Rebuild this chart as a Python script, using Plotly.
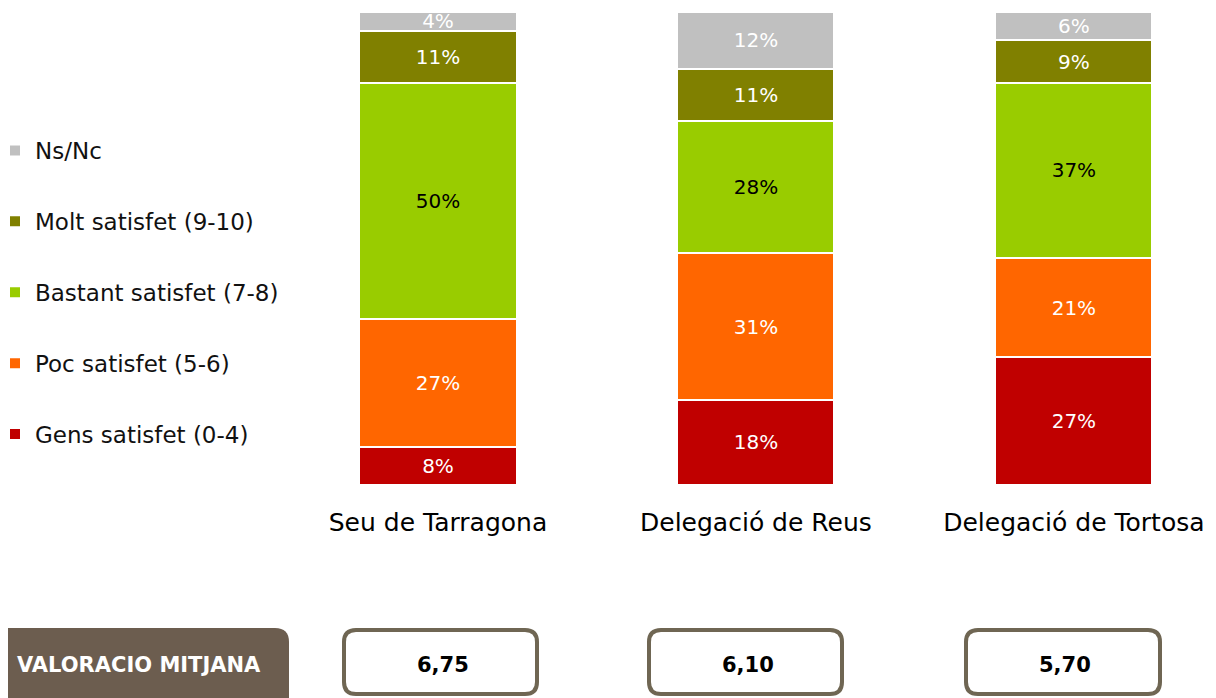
import plotly.graph_objects as go

W, H = 1216, 698
OFF = 8  # page body margin compensation

categories = ["Seu de Tarragona", "Delegació de Reus", "Delegació de Tortosa"]
series_names = ["Gens satisfet (0-4)", "Poc satisfet (5-6)", "Bastant satisfet (7-8)",
                "Molt satisfet (9-10)", "Ns/Nc"]
gens = [8, 18, 27]
poc = [27, 31, 21]
bastant = [50, 28, 37]
molt = [11, 11, 9]
nsnc = [4, 12, 6]
mitjana = ["6,75", "6,10", "5,70"]
mitjana_label = "VALORACIO MITJANA"

colors = ["#C00000", "#FF6600", "#99CC00", "#808000", "#C0C0C0"]
text_colors = ["white", "white", "black", "white", "white"]
FONT = "DejaVu Sans"

fig = go.Figure()
for i, (name, vals) in enumerate(zip(series_names, [gens, poc, bastant, molt, nsnc])):
    fig.add_trace(go.Bar(
        x=categories, y=vals, name=name, legendgroup=name,
        legendrank=len(series_names) - i,
        marker=dict(color=colors[i], line=dict(color="white", width=2)),
        texttemplate="%{y}%", textposition="inside", insidetextanchor="middle",
        textfont=dict(color=text_colors[i], size=20, family=FONT),
        width=0.494, hoverinfo="skip",
    ))


def px(x):
    return (x - OFF) / W


def py(y):
    return 1 - (y - OFF) / H


def rrect(x0, y0, x1, y1, r):
    rx, ry = r / W, r / H
    X0, X1, Y0, Y1 = px(x0), px(x1), py(y0), py(y1)
    return (f"M {X0+rx},{Y0} L {X1-rx},{Y0} Q {X1},{Y0} {X1},{Y0-ry} "
            f"L {X1},{Y1+ry} Q {X1},{Y1} {X1-rx},{Y1} L {X0+rx},{Y1} "
            f"Q {X0},{Y1} {X0},{Y1+ry} L {X0},{Y0-ry} Q {X0},{Y0} {X0+rx},{Y0} Z")


shapes = []
annotations = []
# label box
shapes.append(dict(type="path", xref="paper", yref="paper",
                   path=rrect(-40, 628, 289, 720, 14),
                   fillcolor="#6C5D4F", line=dict(width=0)))
annotations.append(dict(x=px(263), y=py(665), xref="paper", yref="paper",
                        text=f"<b>{mitjana_label}</b>", showarrow=False,
                        xanchor="right", yanchor="middle",
                        font=dict(color="white", size=21, family=FONT)))
boxes = [(344, 537), (649, 842), (966, 1160)]
for (bx0, bx1), val in zip(boxes, mitjana):
    shapes.append(dict(type="path", xref="paper", yref="paper",
                       path=rrect(bx0, 630, bx1, 694, 12),
                       fillcolor="white", line=dict(color="#6F6653", width=4)))
    annotations.append(dict(x=px((bx0 + bx1) / 2 + 2), y=py(665), xref="paper", yref="paper",
                            text=f"<b>{val}</b>", showarrow=False,
                            xanchor="center", yanchor="middle",
                            font=dict(color="black", size=21, family=FONT)))

fig.update_layout(
    width=W, height=H,
    margin=dict(l=0, r=0, t=0, b=0, autoexpand=False),
    paper_bgcolor="white", plot_bgcolor="white",
    barmode="stack",
    uniformtext=dict(minsize=20, mode="show"),
    font=dict(family=FONT, color="black"),
    showlegend=True,
    legend=dict(x=-13 / W, y=py(129), xanchor="left", yanchor="top",
                traceorder="grouped", tracegroupgap=38, itemwidth=30,
                font=dict(size=23, family=FONT, color="#111111"),
                bgcolor="rgba(0,0,0,0)"),
    xaxis=dict(domain=[px(300), px(1216)], range=[-0.434, 2.447], showgrid=False,
               showline=False, zeroline=False, ticks="", ticklabelstandoff=20,
               tickfont=dict(size=25, family=FONT, color="black")),
    yaxis=dict(domain=[py(485), py(12)], range=[0, 100], visible=False),
    shapes=shapes, annotations=annotations,
)

fig.write_html("out.html")
